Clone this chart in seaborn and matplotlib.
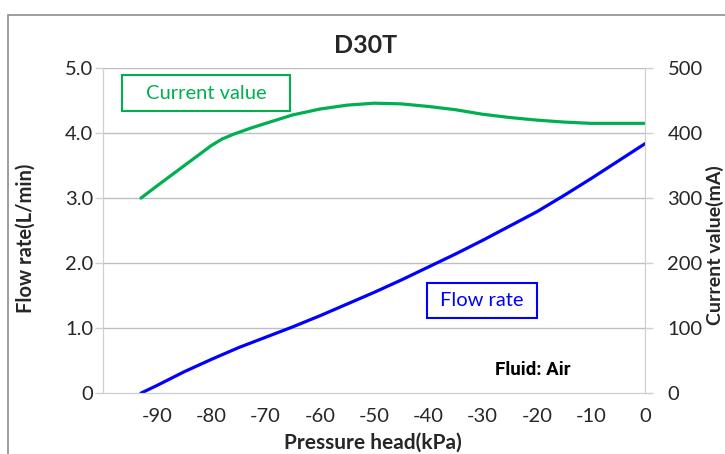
import numpy as np
import pandas as pd
import seaborn as sns
import matplotlib.pyplot as plt
from matplotlib.patches import Rectangle
from matplotlib.ticker import FuncFormatter

# data
pressure_flow = [-93, -90, -85, -80, -75, -70, -65, -60, -55, -50, -45, -40, -35, -30, -25, -20, -15, -10, -5, 0]
flow_rate = [0.0, 0.12, 0.33, 0.52, 0.7, 0.86, 1.02, 1.19, 1.37, 1.55, 1.74, 1.94, 2.14, 2.35, 2.57, 2.79, 3.04, 3.3, 3.57, 3.84]
pressure_cur = [-93, -90, -85, -80, -78, -76, -73, -70, -65, -60, -55, -50, -45, -40, -35, -30, -25, -20, -15, -10, -5, 0]
current_ma = [300, 319, 350, 381, 391, 398, 407, 415, 428, 437, 443, 446, 445, 441, 436, 429, 424, 420, 417, 415, 415, 415]
x_ticks = [-90, -80, -70, -60, -50, -40, -30, -20, -10, 0]
y_left_ticks = [0, 1, 2, 3, 4, 5]
y_right_ticks = [0, 100, 200, 300, 400, 500]

df_flow = pd.DataFrame({'p': pressure_flow, 'v': flow_rate})
df_cur = pd.DataFrame({'p': pressure_cur, 'v': current_ma})

sns.set_style('white')
plt.rcParams['font.family'] = ['Lato', 'DejaVu Sans']
plt.rcParams['axes.unicode_minus'] = False

fig = plt.figure(figsize=(7.25, 4.54), dpi=100)
ax = fig.add_axes([0.142, 0.134, 0.748, 0.716])
ax2 = ax.twinx()

grid_c = '#bfbfbf'
spine_c = '#d0d0d0'
green = '#00b050'
blue = '#0000ff'
ax.set_xlim(-100, 0)
ax.set_ylim(0, 5)
ax2.set_ylim(0, 500)
for v in y_left_ticks[1:]:
    ax.axhline(v, color=grid_c, lw=1, zorder=0)

sns.lineplot(data=df_flow, x='p', y='v', ax=ax, color=blue, lw=2.3)
sns.lineplot(data=df_cur, x='p', y='v', ax=ax2, color=green, lw=2.3)

ax.set_xticks(x_ticks)
ax.set_xticks([-100], minor=True)
ax.set_yticks(y_left_ticks)
ax2.set_yticks(y_right_ticks)
ax.yaxis.set_major_formatter(FuncFormatter(lambda v, p: '0' if v == 0 else '%.1f' % v))

for a in (ax, ax2):
    for s in a.spines.values():
        s.set_color(spine_c)
    a.spines['top'].set_visible(False)
    a.tick_params(colors=spine_c, labelcolor='#262626', labelsize=14.5, length=6, width=1)
ax.spines['bottom'].set_color(grid_c)
ax.tick_params(axis='x', which='minor', length=6, color=spine_c)
ax.tick_params(axis='x', pad=5)
ax.tick_params(axis='y', pad=1)
ax2.tick_params(axis='y', pad=10)

ax.set_xlabel('Pressure head(kPa)', fontsize=15, fontweight='bold')
ax.xaxis.set_label_coords(0.498, -0.122)
ax.set_ylabel('Flow rate(L/min)', fontsize=14.5, fontweight='bold')
ax.yaxis.set_label_coords(-0.124, 0.477)
ax2.set_ylabel('Current value(mA)', fontsize=14, fontweight='bold')
ax2.yaxis.set_label_coords(1.111, 0.455)
fig.text(366 / 725, 1 - 53 / 454, 'D30T', fontsize=18, fontweight='bold', ha='center', va='baseline')

# legend boxes
ax.add_patch(Rectangle((0.035, 0.868), 0.31, 0.11, transform=ax.transAxes, fc='white', ec=green, lw=1.5, zorder=5))
ax.text(0.19, 0.923, 'Current value', transform=ax.transAxes, color=green, fontsize=14.5,
        ha='center', va='center', zorder=6)
ax.add_patch(Rectangle((0.598, 0.231), 0.203, 0.107, transform=ax.transAxes, fc='white', ec=blue, lw=1.5, zorder=5))
ax.text(0.699, 0.285, 'Flow rate', transform=ax.transAxes, color=blue, fontsize=14.5,
        ha='center', va='center', zorder=6)
ax.text(0.793, 0.071, 'Fluid: Air', transform=ax.transAxes, color='black', fontsize=13.5,
        fontweight='bold', ha='center', va='center', family='Roboto')

fig.patches.append(Rectangle((8 / 725, -0.1), 1.2, 1.1 - 15 / 454, transform=fig.transFigure,
                             fill=False, ec='#8c8c8c', lw=1.2))

fig.savefig('out.png', dpi=100)
